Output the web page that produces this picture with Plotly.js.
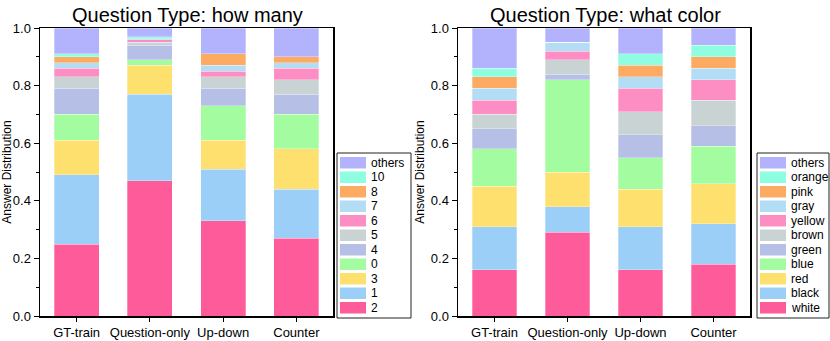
<!DOCTYPE html>
<html>
<head>
<meta charset="utf-8">
<script src="https://cdn.plot.ly/plotly-3.0.1.min.js"></script>
<style>body{margin:0;background:#fff}</style>
</head>
<body>
<div id="myChart" style="width:830px;height:341px"></div>
<script>
const models = ['GT-train', 'Question-only', 'Up-down', 'Counter'];

// Question Type: how many (stack order bottom -> top)
const countLabels = ['2', '1', '3', '0', '4', '5', '6', '7', '8', '10', 'others'];
const cnt2      = [0.25, 0.47, 0.33, 0.27];
const cnt1      = [0.24, 0.30, 0.18, 0.17];
const cnt3      = [0.12, 0.10, 0.10, 0.14];
const cnt0      = [0.09, 0.02, 0.12, 0.12];
const cnt4      = [0.09, 0.05, 0.06, 0.07];
const cnt5      = [0.04, 0.01, 0.04, 0.05];
const cnt6      = [0.03, 0.01, 0.02, 0.04];
const cnt7      = [0.02, 0.002, 0.02, 0.02];
const cnt8      = [0.02, 0.001, 0.04, 0.02];
const cnt10     = [0.01, 0.007, 0.00, 0.00];
const cntOthers = [0.09, 0.03, 0.09, 0.10];

// Question Type: what color (stack order bottom -> top)
const colorLabels = ['white', 'black', 'red', 'blue', 'green', 'brown', 'yellow', 'gray', 'pink', 'orange', 'others'];
const colWhite  = [0.16, 0.29, 0.16, 0.18];
const colBlack  = [0.15, 0.09, 0.15, 0.14];
const colRed    = [0.14, 0.12, 0.13, 0.14];
const colBlue   = [0.13, 0.32, 0.11, 0.13];
const colGreen  = [0.07, 0.02, 0.08, 0.07];
const colBrown  = [0.05, 0.05, 0.08, 0.09];
const colYellow = [0.05, 0.03, 0.08, 0.07];
const colGray   = [0.04, 0.03, 0.04, 0.04];
const colPink   = [0.04, 0.00, 0.04, 0.04];
const colOrange = [0.03, 0.00, 0.04, 0.04];
const colOthers = [0.14, 0.05, 0.09, 0.06];

const countSeries = [cnt2, cnt1, cnt3, cnt0, cnt4, cnt5, cnt6, cnt7, cnt8, cnt10, cntOthers];
const colorSeries = [colWhite, colBlack, colRed, colBlue, colGreen, colBrown, colYellow, colGray, colPink, colOrange, colOthers];

const stackColors = ['#fd5b99', '#9bcff7', '#fde06e', '#a3fda0', '#b6bfe6', '#cad3d3',
	'#fd8ec4', '#b3dcf5', '#fdab62', '#8ffde0', '#b3b3fd'];

const W = 830, H = 341;
const FONT = 'Arial, "Liberation Sans", sans-serif';
const px = x => x / W;
const py = y => 1 - y / H;

const data = [];
countLabels.forEach((name, i) => {
	data.push({
		x: models, y: countSeries[i], name: name, type: 'bar',
		xaxis: 'x', yaxis: 'y', showlegend: false,
		marker: { color: stackColors[i], line: { color: 'rgba(255,255,255,0.5)', width: 0.6 } }
	});
});
colorLabels.forEach((name, i) => {
	data.push({
		x: models, y: colorSeries[i], name: name, type: 'bar',
		xaxis: 'x2', yaxis: 'y2', showlegend: false,
		marker: { color: stackColors[i], line: { color: 'rgba(255,255,255,0.5)', width: 0.6 } }
	});
});

// hand-made legends (boxed, tight rows like the original)
const shapes = [];
const annotations = [];
function addLegend(labels, left, right) {
	const top = 153, bottom = 318;
	shapes.push({
		type: 'rect', xref: 'paper', yref: 'paper',
		x0: px(left), x1: px(right), y0: py(bottom), y1: py(top),
		line: { color: '#222', width: 1 }, fillcolor: 'rgba(0,0,0,0)'
	});
	const n = labels.length;
	for (let k = 0; k < n; k++) {
		const i = n - 1 - k;
		const y0 = 157 + k * 14.5;
		shapes.push({
			type: 'rect', xref: 'paper', yref: 'paper',
			x0: px(left + 3), x1: px(left + 29), y0: py(y0 + 11.5), y1: py(y0),
			line: { width: 0 }, fillcolor: stackColors[i]
		});
		annotations.push({
			xref: 'paper', yref: 'paper', x: px(left + 32), y: py(y0 + 5.8),
			xanchor: 'left', yanchor: 'middle', showarrow: false,
			text: labels[i], font: { family: FONT, size: 12, color: '#000' }
		});
	}
}
addLegend(countLabels, 337, 411);
addLegend(colorLabels, 757, 829);

annotations.push({
	xref: 'paper', yref: 'paper', x: px(187), y: py(15), xanchor: 'center', yanchor: 'middle',
	showarrow: false, text: 'Question Type: how many', font: { family: FONT, size: 20, color: '#000' }
});
annotations.push({
	xref: 'paper', yref: 'paper', x: px(605), y: py(15), xanchor: 'center', yanchor: 'middle',
	showarrow: false, text: 'Question Type: what color', font: { family: FONT, size: 20, color: '#000' }
});

const yBase = {
	range: [0, 1], dtick: 0.2, tickformat: '.1f',
	ticks: 'outside', ticklen: 5, tickwidth: 1, tickcolor: '#000',
	minor: { dtick: 0.1, ticks: 'outside', ticklen: 3, tickcolor: '#000' },
	showgrid: false, zeroline: false,
	showline: true, mirror: true, linecolor: '#000', linewidth: 1.5,
	tickfont: { family: FONT, size: 13, color: '#000' },
	title: { text: 'Answer Distribution', font: { family: FONT, size: 12, color: '#000' }, standoff: 3 }
};
const xBase = {
	type: 'category', ticks: 'outside', ticklen: 4, tickcolor: '#000',
	showgrid: false, showline: true, mirror: true, linecolor: '#000', linewidth: 1.5,
	tickfont: { family: FONT, size: 13, color: '#000' }
};

const layout = {
	width: W, height: H,
	margin: { l: 0, r: 0, t: 0, b: 0 },
	paper_bgcolor: '#fff', plot_bgcolor: '#fff',
	barmode: 'stack', bargap: 0.385,
	showlegend: false,
	xaxis: Object.assign({}, xBase, { domain: [px(40), px(333)], anchor: 'y' }),
	yaxis: Object.assign({}, yBase, { domain: [py(316), py(28)], anchor: 'x' }),
	xaxis2: Object.assign({}, xBase, { domain: [px(458), px(750)], anchor: 'y2' }),
	yaxis2: Object.assign({}, yBase, { domain: [py(316), py(28)], anchor: 'x2' }),
	shapes: shapes,
	annotations: annotations
};

Plotly.newPlot('myChart', data, layout, { displayModeBar: false, staticPlot: true });
</script>
</body>
</html>
